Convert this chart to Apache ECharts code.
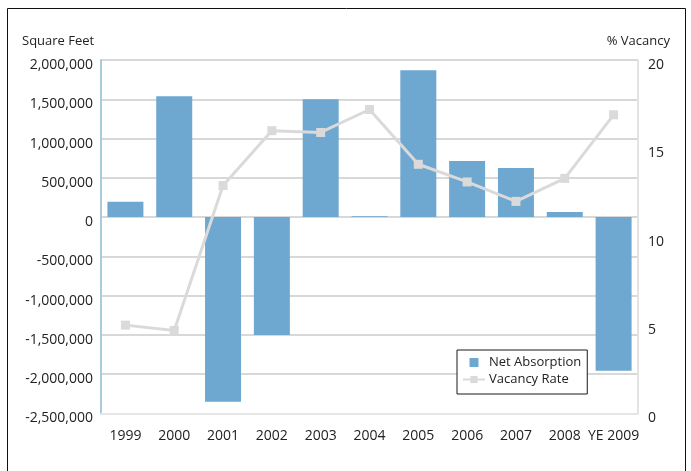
<!DOCTYPE html>
<html>
<head>
<meta charset="utf-8">
<script src="https://cdn.jsdelivr.net/npm/echarts@6/dist/echarts.min.js"></script>
<style>
  html, body { margin: 0; padding: 0; background: #ffffff; }
  #chart { width: 691px; height: 471px; }
</style>
</head>
<body>
<div id="chart"></div>
<script>
// Office market: net absorption (sq ft) vs. vacancy rate (%)
var years = ['1999', '2000', '2001', '2002', '2003', '2004', '2005', '2006', '2007', '2008', 'YE 2009'];
var netAbsorption = [195000, 1540000, -2350000, -1500000, 1500000, 10000, 1870000, 715000, 625000, 65000, -1955000];
var vacancyRate = [5.0, 4.7, 12.9, 16.0, 15.9, 17.2, 14.1, 13.1, 12.0, 13.3, 16.9];

var sqFtTicks = { min: -2500000, max: 2000000, step: 500000 };
var pctTicks = { min: 0, max: 20, step: 5 };

var FONT = '"Open Sans", "DejaVu Sans", sans-serif';
var TEXT = '#222222';
var BAR = '#6ea7d0';
var LINE = '#dadada';

function withCommas(v) {
  var s = Math.abs(v).toString().replace(/\B(?=(\d{3})+(?!\d))/g, ',');
  return (v < 0 ? '-' : '') + s;
}

// value labels sit a little below their gridline
var tickRich = {
  t: { fontFamily: FONT, fontSize: 14, color: TEXT, padding: [10, 0, 0, 0] }
};

var chart = echarts.init(document.getElementById('chart'), null, { renderer: 'canvas' });

chart.setOption({
  backgroundColor: '#ffffff',
  animation: false,
  grid: { left: 101, right: 53, top: 60, bottom: 57.5, containLabel: false },
  graphic: [
    {
      type: 'rect',
      shape: { x: 7.5, y: 8.5, width: 678, height: 520 },
      style: { fill: 'none', stroke: '#111111', lineWidth: 1 },
      silent: true
    },
    {
      type: 'text',
      left: 22, top: 35,
      style: { text: 'Square Feet', font: '13px ' + FONT, fill: TEXT }
    },
    {
      type: 'text',
      right: 21, top: 35,
      style: { text: '% Vacancy', font: '13px ' + FONT, fill: TEXT }
    }
  ],
  legend: {
    left: 457, top: 350,
    orient: 'vertical',
    backgroundColor: '#ffffff',
    borderColor: '#1a1a1a',
    borderWidth: 1,
    borderRadius: 0,
    padding: [6, 6, 8, 5],
    itemGap: 4,
    itemWidth: 22,
    itemHeight: 9,
    textStyle: { fontFamily: FONT, fontSize: 13, color: TEXT, padding: [0, 0, 0, -1] },
    data: [
      { name: 'Net Absorption', icon: 'path://M0,0H10V10H0Z', itemStyle: { color: BAR } },
      { name: 'Vacancy Rate' }
    ]
  },
  xAxis: {
    type: 'category',
    data: years,
    axisLine: { onZero: false, lineStyle: { color: '#e6e6e6', width: 2 } },
    axisTick: { show: false },
    axisLabel: { margin: 16, fontFamily: FONT, fontSize: 14, color: TEXT, interval: 0 },
    splitLine: { show: false }
  },
  yAxis: [
    {
      type: 'value',
      min: sqFtTicks.min, max: sqFtTicks.max, interval: sqFtTicks.step,
      axisLine: { show: true, lineStyle: { color: '#a9cbdc', width: 2 } },
      axisTick: { show: false },
      axisLabel: {
        margin: 8,
        formatter: function (v) { return '{t|' + withCommas(v) + '}'; },
        rich: tickRich
      },
      splitLine: { show: true, lineStyle: { color: '#cbcbcb', width: 1.5 } }
    },
    {
      type: 'value',
      min: pctTicks.min, max: pctTicks.max, interval: pctTicks.step,
      axisLine: { show: true, lineStyle: { color: '#e3e3e3', width: 2 } },
      axisTick: { show: false },
      axisLabel: {
        margin: 10,
        formatter: function (v) { return '{t|' + v + '}'; },
        rich: tickRich
      },
      splitLine: { show: false }
    }
  ],
  series: [
    {
      name: 'Net Absorption',
      type: 'bar',
      yAxisIndex: 0,
      data: netAbsorption,
      barWidth: 36,
      itemStyle: { color: BAR }
    },
    {
      name: 'Vacancy Rate',
      type: 'line',
      yAxisIndex: 1,
      data: vacancyRate,
      symbol: 'rect',
      symbolSize: 9,
      showAllSymbol: true,
      lineStyle: { color: LINE, width: 3 },
      itemStyle: { color: LINE },
      z: 5
    }
  ]
});
</script>
</body>
</html>
